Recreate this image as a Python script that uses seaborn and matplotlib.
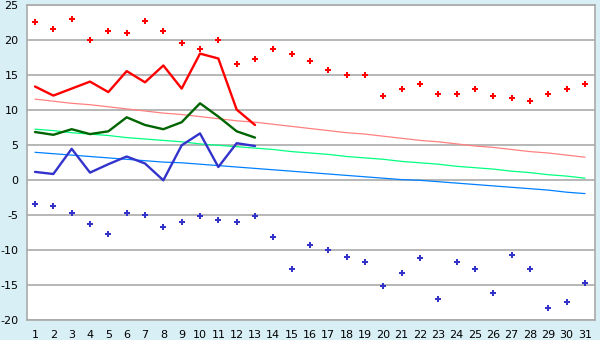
import matplotlib
matplotlib.use("Agg")
import matplotlib.pyplot as plt
import seaborn as sns
import numpy as np

days = list(range(1, 32))
day_labels = [str(d) for d in days]

record_max = [22.6, 21.6, 23.1, 20.0, 21.4, 21.0, 22.7, 21.4, 19.6, 18.7, 20.0, 16.6, 17.4, 18.7, 18.0, 17.0,
              15.7, 15.0, 15.0, 12.1, 13.1, 13.7, 12.4, 12.4, 13.0, 12.1, 11.7, 11.4, 12.4, 13.1, 13.7]
record_min = [-3.4, -3.6, -4.7, -6.3, -7.6, -4.6, -5.0, -6.6, -5.9, -5.1, -5.6, -6.0, -5.1, -8.1, -12.6, -9.3,
              -9.9, -11.0, -11.6, -15.1, -13.3, -11.1, -16.9, -11.7, -12.6, -16.1, -10.6, -12.7, -18.3, -17.4, -14.6]

obs_days = list(range(1, 14))
obs_max = [13.4, 12.1, 13.1, 14.1, 12.6, 15.6, 14.0, 16.4, 13.1, 18.1, 17.4, 10.1, 7.9]
obs_mean = [6.9, 6.5, 7.3, 6.6, 7.0, 9.0, 7.9, 7.3, 8.3, 11.0, 9.1, 7.0, 6.1]
obs_min = [1.2, 0.9, 4.5, 1.1, 2.3, 3.4, 2.4, 0.0, 5.0, 6.7, 1.9, 5.3, 4.9]

normal_max = [11.6, 11.3, 11.0, 10.8, 10.5, 10.2, 9.9, 9.6, 9.4, 9.1, 8.8, 8.5, 8.3, 8.0, 7.7, 7.4,
              7.1, 6.8, 6.6, 6.3, 6.0, 5.7, 5.5, 5.2, 4.9, 4.7, 4.4, 4.1, 3.9, 3.6, 3.3]
normal_mean = [7.3, 7.1, 6.8, 6.6, 6.4, 6.1, 5.9, 5.7, 5.5, 5.2, 5.0, 4.8, 4.6, 4.4, 4.1, 3.9,
               3.7, 3.4, 3.2, 3.0, 2.7, 2.5, 2.3, 2.0, 1.8, 1.6, 1.3, 1.1, 0.8, 0.6, 0.3]
normal_min = [4.0, 3.8, 3.6, 3.4, 3.2, 3.0, 2.8, 2.6, 2.5, 2.3, 2.1, 1.9, 1.7, 1.5, 1.3, 1.1,
              0.9, 0.7, 0.5, 0.3, 0.1, 0.0, -0.2, -0.4, -0.6, -0.8, -1.0, -1.2, -1.4, -1.7, -1.9]

y_ticks = [-20, -15, -10, -5, 0, 5, 10, 15, 20, 25]

sns.set_theme(style="white")
plt.rcParams['font.family'] = ['DejaVu Sans']

bg = "#d9eff6"
fig = plt.figure(figsize=(6, 3.4), dpi=100, facecolor=bg)
ax = fig.add_axes([26.7 / 600, 1 - 320.3 / 340, (595 - 26.7) / 600, (320.3 - 5.3) / 340])
ax.set_facecolor("white")

for y in y_ticks:
    ax.axhline(y, color="#aaaaaa", lw=1.2, zorder=0)

sns.lineplot(x=days, y=normal_max, color="#ff8080", lw=0.9, ax=ax)
sns.lineplot(x=days, y=normal_mean, color="#00ff80", lw=0.9, ax=ax)
sns.lineplot(x=days, y=normal_min, color="#0080ff", lw=0.9, ax=ax)

sns.lineplot(x=obs_days, y=obs_max, color="#ff0000", lw=1.7, ax=ax)
sns.lineplot(x=obs_days, y=obs_mean, color="#006400", lw=1.7, ax=ax)
sns.lineplot(x=obs_days, y=obs_min, color="#3333cc", lw=1.7, ax=ax)

sns.scatterplot(x=days, y=record_max, color="#ff0000", marker="P", s=24, linewidth=0, ax=ax)
sns.scatterplot(x=days, y=record_min, color="#3333cc", marker="P", s=24, linewidth=0, ax=ax)

ax.set_xlim(0.547, 31.545)
ax.set_ylim(-20, 25)
ax.set_xticks(days)
ax.set_xticklabels(day_labels)
ax.set_yticks(y_ticks)
ax.set_yticklabels([str(v) for v in y_ticks])
ax.tick_params(axis="both", labelsize=8, colors="#000000", length=5, width=1, pad=2, direction="out")
ax.tick_params(axis="y", length=4)
for s in ax.spines.values():
    s.set_color("#aaaaaa")
    s.set_linewidth(1.2)
ax.set_xlabel("")
ax.set_ylabel("")

fig.savefig("out.png", dpi=100, facecolor=bg)
